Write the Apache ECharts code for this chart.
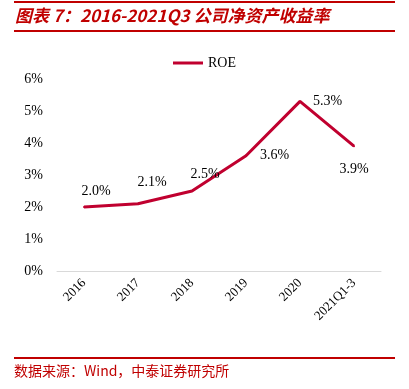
<!DOCTYPE html>
<html><head><meta charset="utf-8">
<script src="https://cdn.jsdelivr.net/npm/echarts@6/dist/echarts.min.js"></script>
<style>html,body{margin:0;padding:0;background:#fff}#c{width:409px;height:389px}</style>
</head><body><div id="c"></div>
<script>
const categories = ['2016','2017','2018','2019','2020','2021Q1-3'];
const roe = [2.0, 2.1, 2.5, 3.6, 5.3, 3.9];
const yTicks = [0,1,2,3,4,5,6];
const seriesName = 'ROE';
const titleText = '图表 7：2016-2021Q3 公司净资产收益率';
const sourceText = '数据来源：Wind，中泰证券研究所';

const labelPos = [
  {position:'top', offset:[12,0]},
  {position:'top', offset:[14,-5]},
  {position:'top', offset:[13,-1]},
  {position:'right', offset:[5,0]},
  {position:'right', offset:[4,0]},
  {position:'bottom', offset:[0,7]}
];
const chart = echarts.init(document.getElementById('c'));
const serif = '"Liberation Serif","Times New Roman",serif';
chart.setOption({
  animation:false,
  graphic:[
    {type:'rect', shape:{x:14,y:1,width:381,height:2}, style:{fill:'#C00000'}},
    {type:'text', left:15, top:7, style:{text:titleText, fill:'#C00000', font:'italic bold 17px "Noto Sans CJK SC", sans-serif'}},
    {type:'rect', shape:{x:14,y:30,width:381,height:2}, style:{fill:'#C00000'}},
    {type:'rect', shape:{x:14,y:357,width:381,height:2}, style:{fill:'#C00000'}},
    {type:'text', left:14, top:364, style:{text:sourceText, fill:'#C00000', font:'14px "Noto Sans CJK SC", sans-serif'}}
  ],
  legend:{top:51, left:'center', data:[seriesName], itemWidth:30, itemHeight:3, itemGap:5,
    icon:'rect', textStyle:{fontFamily:serif, fontSize:14, color:'#000'}},
  grid:{left:57, right:28, top:79, bottom:118},
  xAxis:{type:'category', data:categories, boundaryGap:true,
    axisLine:{lineStyle:{color:'#d9d9d9'}}, axisTick:{show:false},
    axisLabel:{rotate:45, fontFamily:serif, fontSize:13, color:'#000', margin:10}},
  yAxis:{type:'value', min:0, max:6, interval:1,
    axisLine:{show:false}, axisTick:{show:false}, splitLine:{show:false},
    axisLabel:{formatter:v=>v+'%', fontFamily:serif, fontSize:14, color:'#000', margin:14}},
  series:[{name:seriesName, type:'line', data:roe.map((v,i)=>({value:v, label:labelPos[i]})),
    symbol:'circle', symbolSize:2, showSymbol:true, lineStyle:{color:'#C0002F', width:3},
    itemStyle:{color:'#C0002F'},
    label:{show:true, formatter:p=>Number(p.value).toFixed(1)+'%', fontFamily:serif, fontSize:14, color:'#000', distance:8}}]
});
</script></body></html>
